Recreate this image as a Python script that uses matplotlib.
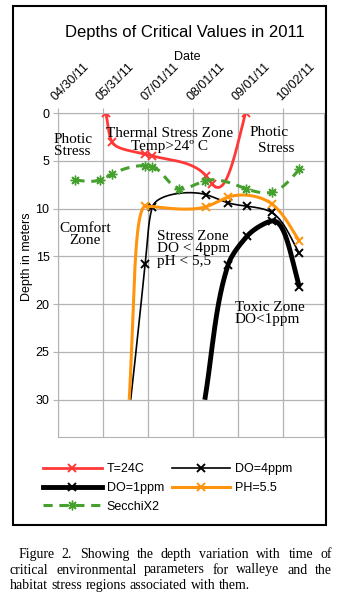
import numpy as np
import matplotlib.pyplot as plt
from matplotlib.lines import Line2D
from matplotlib.patches import Rectangle

plt.rcParams['font.family'] = ['Liberation Sans', 'DejaVu Sans']

W, H = 343, 609
start = np.datetime64('2011-04-30')

# osie
tick_dates = ['2011-04-30', '2011-05-31', '2011-07-01', '2011-08-01', '2011-09-01', '2011-10-02']
tick_labels = ['04/30/11', '05/31/11', '07/01/11', '08/01/11', '09/01/11', '10/02/11']
depth_ticks = [0, 5, 10, 15, 20, 25, 30]

# serie danych (data, glebokosc w m)
t24_dates = ['2011-06-02', '2011-06-06', '2011-06-29', '2011-07-04', '2011-08-10', '2011-08-14', '2011-09-06']
t24_depth = [0, 3.0, 4.3, 4.5, 6.6, 7.4, 0]

do4_dates = ['2011-06-19', '2011-06-29', '2011-07-04', '2011-08-10', '2011-08-25', '2011-09-07', '2011-09-24', '2011-10-13']
do4_depth = [30, 15.8, 9.8, 8.55, 9.4, 9.75, 10.4, 14.7]

do1_dates = ['2011-08-09', '2011-08-25', '2011-09-07', '2011-09-24', '2011-10-13']
do1_depth = [30, 15.9, 12.9, 11.3, 18.2]

ph_dates = ['2011-06-18', '2011-06-29', '2011-08-10', '2011-08-25', '2011-09-24', '2011-10-13']
ph_depth = [30, 9.75, 9.8, 8.8, 9.5, 13.4]

secchi_dates = ['2011-05-12', '2011-05-29', '2011-06-06', '2011-06-29', '2011-07-04',
                '2011-07-22', '2011-08-09', '2011-09-06', '2011-09-24', '2011-10-13']
secchi_depth = [7.0, 7.0, 6.4, 5.5, 5.6, 7.9, 7.1, 7.9, 8.3, 5.9]


def days(dates):
    return (np.array(dates, dtype='datetime64[D]') - start).astype(float)


def natural(t, v, tt):
    # naturalny splajn kubiczny
    n = len(t)
    h = np.diff(t)
    A = np.zeros((n, n))
    r = np.zeros(n)
    A[0, 0] = A[-1, -1] = 1
    for i in range(1, n - 1):
        A[i, i - 1] = h[i - 1]
        A[i, i] = 2 * (h[i - 1] + h[i])
        A[i, i + 1] = h[i]
        r[i] = 6 * ((v[i + 1] - v[i]) / h[i] - (v[i] - v[i - 1]) / h[i - 1])
    M = np.linalg.solve(A, r)
    k = np.clip(np.searchsorted(t, tt) - 1, 0, n - 2)
    a = (t[k + 1] - tt) / h[k]
    b = (tt - t[k]) / h[k]
    return a * v[k] + b * v[k + 1] + ((a**3 - a) * M[k] + (b**3 - b) * M[k + 1]) * h[k]**2 / 6


def pchip(t, v, tt):
    # monotoniczna interpolacja Hermite'a (bez petli w osi x)
    h = np.diff(t)
    dl = np.diff(v) / h
    n = len(t)
    d = np.zeros(n)
    for k in range(1, n - 1):
        if dl[k - 1] * dl[k] > 0:
            w1 = 2 * h[k] + h[k - 1]
            w2 = h[k] + 2 * h[k - 1]
            d[k] = (w1 + w2) / (w1 / dl[k - 1] + w2 / dl[k])
    d[0] = dl[0]
    d[-1] = dl[-1]
    k = np.clip(np.searchsorted(t, tt) - 1, 0, n - 2)
    s = (tt - t[k]) / h[k]
    return ((2 * s**3 - 3 * s**2 + 1) * v[k] + (s**3 - 2 * s**2 + s) * h[k] * d[k]
            + (-2 * s**3 + 3 * s**2) * v[k + 1] + (s**3 - s**2) * h[k] * d[k + 1])


def smooth(x, y):
    # krzywa parametryczna, parametr = dlugosc cieciwy w pikselach
    x = np.asarray(x, float)
    y = np.asarray(y, float)
    d = np.hypot(np.diff(x) * 1.45, np.diff(y) * 9.56)
    t = np.concatenate([[0], np.cumsum(d)])
    tt = np.linspace(0, t[-1], 800)
    return pchip(t, x, tt), natural(t, y, tt)


fig = plt.figure(figsize=(W / 100, H / 100), dpi=100)
ax = fig.add_axes([58 / W, 1 - 437 / H, (324 - 58) / W, (437 - 113) / H])

series = [
    (t24_dates, t24_depth, '#ff3838', 2.0, '-', 'x', 'T=24C', 0),
    (do4_dates, do4_depth, 'black', 1.2, '-', 'x', 'DO=4ppm', 1),
    (do1_dates, do1_depth, 'black', 3.5, '-', 'x', 'DO=1ppm', 1),
    (ph_dates, ph_depth, '#ff950e', 2.2, '-', 'x', 'PH=5.5', 1),
    (secchi_dates, secchi_depth, '#45a02d', 2.2, (0, (3, 2.2)), (8, 2, 0), 'SecchiX2', 0),
]

handles = []
for dates, depth, col, lw, ls, mk, lab, skip in series:
    x = days(dates)
    sx, sy = smooth(x, depth)
    ms = 7 if lab == 'SecchiX2' else 5.5
    mw = 1.0 if lab == 'SecchiX2' else 1.4
    ax.plot(sx, sy, color=col, lw=lw, ls=ls, solid_capstyle='butt')
    ax.plot(x[skip:], depth[skip:], ls='none', marker=mk, color=col, ms=ms, mew=mw)
    handles.append(Line2D([], [], color=col, lw=lw, ls=ls, marker=mk, ms=ms, mew=mw, label=lab))

ax.set_xlim(0, 183)
ax.set_ylim(33.9, 0)
ax.set_xticks(days(tick_dates))
ax.xaxis.tick_top()
ax.set_xticklabels(tick_labels, rotation=45, ha='left', va='bottom', rotation_mode='anchor', fontsize=9)
ax.set_yticks(depth_ticks)
ax.tick_params(axis='y', labelsize=9)
ax.tick_params(length=3.6, color='#b3b3b3', pad=2.5)
ax.tick_params(axis='x', pad=3.5)
ax.grid(True, color='#b3b3b3', lw=0.9)
ax.set_axisbelow(True)
for s in ax.spines.values():
    s.set_color('#b3b3b3')

# napisy stref
serif = dict(family='Liberation Serif', fontsize=11, linespacing=0.95, va='center')
ax.text(-3.0, 3.4, 'Photic\nStress', ha='left', **serif)
ax.text(77, 2.85, 'Thermal Stress Zone\nTemp>24º C', ha='center', multialignment='center', **serif)
ax.text(145, 2.06, 'Photic', ha='center', **serif)
ax.text(150, 3.73, 'Stress', ha='center', **serif)
ax.text(18.4, 12.7, 'Comfort\nZone', ha='center', multialignment='center', **serif)
ax.text(68, 14.2, 'Stress Zone\nDO < 4ppm\npH < 5,5', ha='left', **serif)
ax.text(121.7, 21.0, 'Toxic Zone\nDO<1ppm', ha='left', **serif)

fig.text(184.5 / W, 1 - 32 / H, 'Depths of Critical Values in 2011', ha='center', va='center', fontsize=12)
fig.text(187 / W, 1 - 57 / H, 'Date', ha='center', va='center', fontsize=9)
fig.text(27 / W, 1 - 257 / H, 'Depth in meters', ha='center', va='center', rotation=90, fontsize=9)

order = [0, 2, 4, 1, 3]
fig.legend([handles[i] for i in order], [handles[i].get_label() for i in order],
           loc='upper left', bbox_to_anchor=(43 / W, 1 - 463 / H), ncol=2, frameon=False,
           fontsize=9, numpoints=1, handlelength=4.7, handletextpad=0.4, columnspacing=0.6,
           labelspacing=0.55, borderpad=0, borderaxespad=0)

fig.patches.append(Rectangle((13 / W, 1 - 525 / H), (326 - 13) / W, (525 - 6) / H,
                             transform=fig.transFigure, fill=False, ec='black', lw=1.5))

# podpis wyjustowany
caption = ['Figure 2. Showing the depth variation with time of',
           'critical environmental parameters for walleye and the',
           'habitat stress regions associated with them.']
cap_x0 = [18.3, 10, 10]
cap_y = [558, 573.5, 589]
cap_just = [True, True, False]
renderer = fig.canvas.get_renderer()
for line, x0, y0, just in zip(caption, cap_x0, cap_y, cap_just):
    words = line.split()
    objs = [fig.text(0, 1 - y0 / H, w, family='Liberation Serif', fontsize=10, va='baseline') for w in words]
    widths = [o.get_window_extent(renderer).width for o in objs]
    space = fig.text(0, 0, 'a a', family='Liberation Serif', fontsize=10)
    sp = space.get_window_extent(renderer).width - fig.text(0, 0, 'aa', family='Liberation Serif', fontsize=10).get_window_extent(renderer).width
    for t in fig.texts[-2:]:
        t.remove()
    gap = (332 - x0 - sum(widths)) / (len(words) - 1) if just else sp
    x = x0
    for o, w in zip(objs, widths):
        o.set_x(x / W)
        x += w + gap

fig.savefig('out.png', dpi=100)
